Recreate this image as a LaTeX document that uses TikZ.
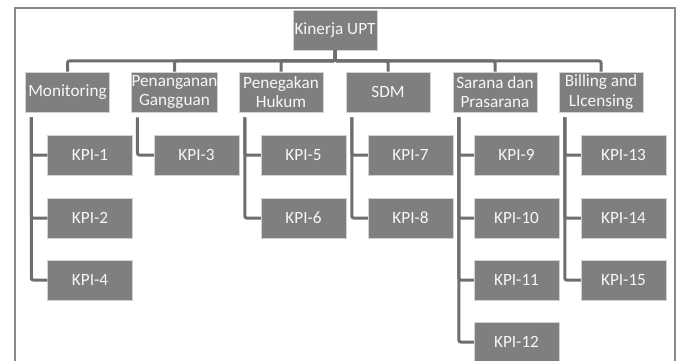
\documentclass[tikz,border=0pt]{standalone}
\usepackage{fontspec}
\setmainfont{Carlito}
\definecolor{boxgray}{HTML}{7F7F7F}
\definecolor{linegray}{HTML}{6E6E6E}
\definecolor{framegray}{HTML}{8A8A8A}
\tikzset{
  unit/.style={fill=boxgray, draw=gray!35, line width=0.5pt, text=white!94!gray,
    minimum width=84pt, minimum height=40pt, inner sep=0pt, align=center,
    font=\fontsize{17.2}{19.5}\selectfont},
  kpi/.style={unit, minimum width=85pt},
  link/.style={draw=linegray, line width=3pt, rounded corners=2pt}
}
\begin{document}
\begin{tikzpicture}[x=1pt,y=-1pt]
      \useasboundingbox (0,0) rectangle (680,361);
      \begin{scope}
        \clip (0,0) rectangle (680,361);
        \draw[framegray, line width=1.5pt] (15,8) rectangle (675,380);
      \end{scope}

      \node [unit] (root) at (335,30) {Kinerja UPT};

      \node [unit] (mon) at (67.5,92) {Monitoring};
      \node [unit] (pen) at (174.5,92) {Penanganan\\Gangguan};
      \node [unit] (huk) at (281,92) {Penegakan\\Hukum};
      \node [unit] (sdm) at (388,92) {SDM};
      \node [unit] (sar) at (495,92) {Sarana dan\\Prasarana};
      \node [unit] (bil) at (601,92) {Billing and\\LIcensing};

      \node [kpi] (k1) at (90,155) {KPI-1};
      \node [kpi] (k2) at (90,218) {KPI-2};
      \node [kpi] (k4) at (90,280) {KPI-4};
      \node [kpi] (k3) at (196.5,155) {KPI-3};
      \node [kpi] (k5) at (303.5,155) {KPI-5};
      \node [kpi] (k6) at (303.5,218) {KPI-6};
      \node [kpi] (k7) at (410.5,155) {KPI-7};
      \node [kpi] (k8) at (410.5,218) {KPI-8};
      \node [kpi] (k9) at (516.5,155) {KPI-9};
      \node [kpi] (k10) at (516.5,218) {KPI-10};
      \node [kpi] (k11) at (516.5,280) {KPI-11};
      \node [kpi] (k12) at (516.5,342) {KPI-12};
      \node [kpi] (k13) at (623.5,155) {KPI-13};
      \node [kpi] (k14) at (623.5,218) {KPI-14};
      \node [kpi] (k15) at (623.5,280) {KPI-15};

      % bus from the root to the units
      \draw[link] (root.south) -- ++(0,10.7) -| (mon.north);
      \draw[link] (root.south) -- ++(0,10.7) -| (pen.north);
      \draw[link] (root.south) -- ++(0,10.7) -| (huk.north);
      \draw[link] (root.south) -- ++(0,10.7) -| (sdm.north);
      \draw[link] (root.south) -- ++(0,10.7) -| (sar.north);
      \draw[link] (root.south) -- ++(0,10.7) -| (bil.north);

      % units to their KPIs
      \draw[link] ([xshift=6pt,yshift=-5pt]mon.south west) |- (k1.west);
      \draw[link] ([xshift=6pt,yshift=-5pt]mon.south west) |- (k2.west);
      \draw[link] ([xshift=6pt,yshift=-5pt]mon.south west) |- (k4.west);
      \draw[link] ([xshift=6pt,yshift=-5pt]pen.south west) |- (k3.west);
      \draw[link] ([xshift=6pt,yshift=-5pt]huk.south west) |- (k5.west);
      \draw[link] ([xshift=6pt,yshift=-5pt]huk.south west) |- (k6.west);
      \draw[link] ([xshift=6pt,yshift=-5pt]sdm.south west) |- (k7.west);
      \draw[link] ([xshift=6pt,yshift=-5pt]sdm.south west) |- (k8.west);
      \draw[link] ([xshift=6pt,yshift=-5pt]sar.south west) |- (k9.west);
      \draw[link] ([xshift=6pt,yshift=-5pt]sar.south west) |- (k10.west);
      \draw[link] ([xshift=6pt,yshift=-5pt]sar.south west) |- (k11.west);
      \draw[link] ([xshift=6pt,yshift=-5pt]sar.south west) |- (k12.west);
      \draw[link] ([xshift=6pt,yshift=-5pt]bil.south west) |- (k13.west);
      \draw[link] ([xshift=6pt,yshift=-5pt]bil.south west) |- (k14.west);
      \draw[link] ([xshift=6pt,yshift=-5pt]bil.south west) |- (k15.west);
    \end{tikzpicture}
\end{document}
